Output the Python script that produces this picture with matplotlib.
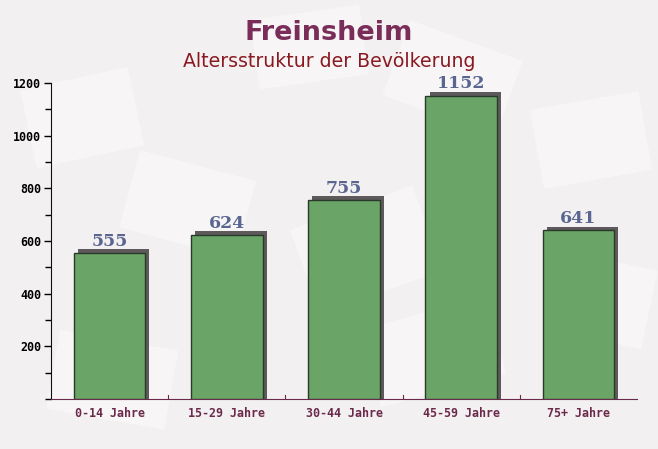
import matplotlib.pyplot as plt
from matplotlib.ticker import MultipleLocator
from matplotlib.patches import Rectangle

# data
categories = ['0-14 Jahre', '15-29 Jahre', '30-44 Jahre', '45-59 Jahre', '75+ Jahre']
values = [555, 624, 755, 1152, 641]

fig = plt.figure(figsize=(6.58, 4.49), dpi=100)
fig.patch.set_facecolor('#f3f0f2')

# faint background "envelopes"
bg = fig.add_axes([0, 0, 1, 1], zorder=-1)
bg.set_xlim(0, 658)
bg.set_ylim(449, 0)
bg.axis('off')
for (x, y, w, h, a) in [(20, 90, 110, 80, -12), (140, 150, 120, 80, 15), (290, 230, 130, 90, -20),
                        (410, 20, 120, 80, 20), (530, 110, 110, 80, -10), (60, 330, 120, 80, 10),
                        (360, 330, 130, 80, -15), (560, 250, 100, 80, 12), (250, 20, 110, 70, -8)]:
    bg.add_patch(Rectangle((x, y), w, h, angle=a, facecolor='white', alpha=0.35, edgecolor='none'))

ax = fig.add_axes([51 / 658, 50 / 449, 586 / 658, 316 / 449])
ax.set_facecolor('none')

x = list(range(len(categories)))
bw = 0.61
# shadow
ax.bar([i + 0.035 for i in x], [v + 14 for v in values], width=bw, color='#5e5a5c', zorder=2)
ax.bar(x, values, width=bw, color='#6aa466', edgecolor='#2a3a2a', linewidth=1.0, zorder=3)

for i, v in zip(x, values):
    ax.text(i, v + 12, str(v), ha='center', va='bottom', fontsize=12.5, fontweight='bold',
            family='DejaVu Serif', color='#5a6690', zorder=4)

ax.set_xlim(-0.5, len(categories) - 0.5)
ax.set_ylim(0, 1200)
ax.yaxis.set_major_locator(MultipleLocator(200))
ax.yaxis.set_minor_locator(MultipleLocator(100))
ax.set_yticks([200, 400, 600, 800, 1000, 1200])
ax.set_xticks(x)
ax.set_xticklabels(categories, family='DejaVu Sans Mono', fontsize=8.4, color='#6b2a4a', fontweight='bold')
for lab in ax.get_yticklabels():
    lab.set_family('DejaVu Sans Mono')
    lab.set_fontweight('bold')
    lab.set_fontsize(8.4)
ax.tick_params(axis='x', length=0, pad=6)
ax.tick_params(axis='y', which='major', length=5, width=1, direction='out', pad=2)
ax.tick_params(axis='y', which='minor', length=4, width=1, direction='out')
# small inward ticks at category boundaries
for b in [i + 0.5 for i in x[:-1]]:
    ax.plot([b, b], [0, 14], color='#6b2a4a', lw=0.8, zorder=1)

ax.spines['top'].set_visible(False)
ax.spines['right'].set_visible(False)
ax.spines['left'].set_color('#111111')
ax.spines['bottom'].set_color('#6b2a4a')

fig.text(0.5, 0.927, 'Freinsheim', ha='center', va='center', fontsize=19.5, fontweight='bold', color='#7a2d58')
fig.text(0.5, 0.862, 'Altersstruktur der Bevölkerung', ha='center', va='center', fontsize=13.6, color='#8a1a22')

fig.savefig('out.png', dpi=100, facecolor=fig.get_facecolor())
